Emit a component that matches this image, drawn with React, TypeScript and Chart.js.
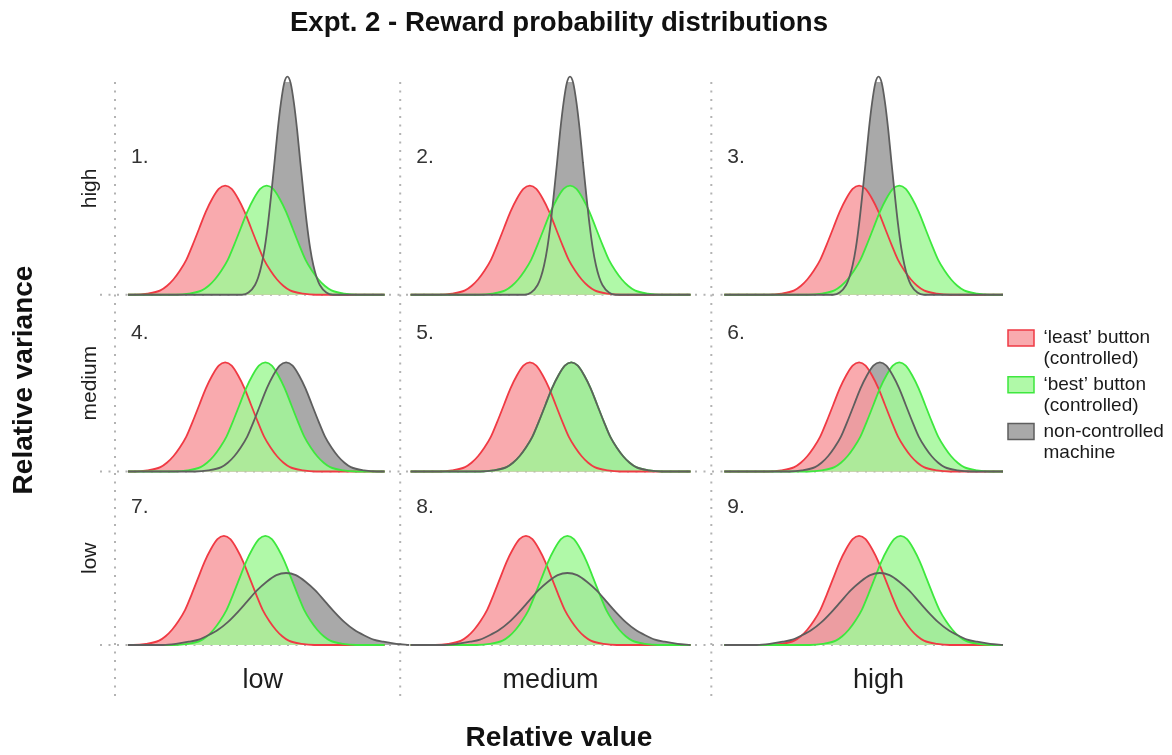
import React, { useEffect, useRef } from 'react';
import { Chart, registerables } from 'chart.js';

Chart.register(...registerables);

const FONT = "'Liberation Sans', Arial, Helvetica, sans-serif";

// ---- text ----
const TITLE = 'Expt. 2 - Reward probability distributions';
const X_AXIS_TITLE = 'Relative value';
const Y_AXIS_TITLE = 'Relative variance';
const COLUMN_LABELS = ['low', 'medium', 'high'];
const ROW_LABELS = ['high', 'medium', 'low'];
const PANEL_LABELS = ['1.', '2.', '3.', '4.', '5.', '6.', '7.', '8.', '9.'];
const LEGEND_LABELS = [
  ['\u2018least\u2019 button', '(controlled)'],
  ['\u2018best\u2019 button', '(controlled)'],
  ['non-controlled', 'machine'],
];

// ---- axis extents (relative value units, relative density units) ----
const COLUMN_X_MAX = [11, 12, 11.25];
const COLUMN_LABEL_AT = [5.7, 5.8, 6.45];
const COLUMN_BASELINE_START = [0.5, 0.4, 0.5];
const COLUMN_BASELINE_END = [10.4, 11.2, 11.25];
const ROW_Y_MAX = [1.95, 1.62, 1.59];

// ---- distribution centres per panel (1..9) ----
const RED_MEANS = [4.25, 5.0, 5.7, 4.25, 5.0, 5.7, 4.2, 4.85, 5.7];
const GREEN_MEANS = [5.85, 6.55, 7.25, 5.8, 6.6, 7.25, 5.8, 6.45, 7.3];
const GRAY_MEANS = [6.65, 6.55, 6.45, 6.6, 6.6, 6.5, 6.6, 6.45, 6.5];
const GRAY_PROFILE_BY_ROW = ['narrow', 'standard', 'wide'];

// ---- curve profiles (offset from peak, height) ----
const STANDARD_OFFSETS = [-3.5, -3, -2.5, -2.25, -2, -1.75, -1.5, -1.25, -1, -0.75, -0.5, -0.25, 0, 0.25, 0.5, 0.75, 1, 1.25, 1.5, 1.75, 2, 2.25, 2.5, 3, 3.5];
const STANDARD_HEIGHTS = [0.0, 0.01, 0.04, 0.08, 0.14, 0.22, 0.32, 0.46, 0.61, 0.76, 0.88, 0.97, 1.0, 0.97, 0.88, 0.76, 0.61, 0.46, 0.32, 0.22, 0.14, 0.08, 0.04, 0.01, 0.0];
const NARROW_OFFSETS = [-1.75, -1.5, -1.25, -1.125, -1, -0.875, -0.75, -0.625, -0.5, -0.375, -0.25, -0.125, 0, 0.125, 0.25, 0.375, 0.5, 0.625, 0.75, 0.875, 1, 1.125, 1.25, 1.5, 1.75];
const NARROW_HEIGHTS = [0.0, 0.02, 0.09, 0.16, 0.27, 0.43, 0.65, 0.92, 1.21, 1.51, 1.76, 1.94, 2.0, 1.94, 1.76, 1.51, 1.21, 0.92, 0.65, 0.43, 0.27, 0.16, 0.09, 0.02, 0.0];
const WIDE_OFFSETS = [-4.75, -4.25, -3.75, -3.375, -3, -2.625, -2.25, -1.875, -1.5, -1.125, -0.75, -0.375, 0, 0.375, 0.75, 1.125, 1.5, 1.875, 2.25, 2.625, 3, 3.375, 3.75, 4.25, 4.75];
const WIDE_HEIGHTS = [0.0, 0.01, 0.03, 0.05, 0.09, 0.14, 0.21, 0.3, 0.4, 0.5, 0.58, 0.64, 0.66, 0.64, 0.58, 0.5, 0.4, 0.3, 0.21, 0.14, 0.09, 0.05, 0.03, 0.01, 0.0];

const PROFILES: Record<string, [number[], number[]]> = {
  standard: [STANDARD_OFFSETS, STANDARD_HEIGHTS],
  narrow: [NARROW_OFFSETS, NARROW_HEIGHTS],
  wide: [WIDE_OFFSETS, WIDE_HEIGHTS],
};

// ---- styles ----
const RED_LINE = '#f03a44';
const RED_FILL = 'rgba(248, 155, 160, 0.85)';
const GREEN_LINE = '#3ee83e';
const GREEN_FILL = 'rgba(162, 248, 153, 0.85)';
const GRAY_LINE = '#5e5e5e';
const GRAY_FILL = 'rgba(169, 169, 169, 1)';
const TEXT_COLOR = '#1e1e1e';
const NONE = 'rgba(0,0,0,0)';

function buildCurve(profile: string, mean: number, start: number, end: number) {
  const [offsets, heights] = PROFILES[profile];
  const pts = offsets.map((o, i) => ({ x: mean + o, y: heights[i] }));
  if (start < pts[0].x) pts.unshift({ x: start, y: 0 });
  if (end > pts[pts.length - 1].x) pts.push({ x: end, y: 0 });
  return pts;
}

function lineSet(label: string, data: any[], col: number, row: number, color: string) {
  return {
    label,
    data,
    xAxisID: 'x' + col,
    yAxisID: 'y' + row,
    borderColor: color,
    backgroundColor: NONE,
    borderWidth: 1.8,
    fill: false,
    pointRadius: 0,
    pointHoverRadius: 0,
    cubicInterpolationMode: 'monotone',
    clip: false,
  };
}

function fillSet(label: string, data: any[], col: number, row: number, color: string) {
  return {
    label,
    data,
    xAxisID: 'x' + col,
    yAxisID: 'y' + row,
    borderColor: NONE,
    backgroundColor: color,
    borderWidth: 0,
    showLine: false,
    fill: 'origin',
    pointRadius: 0,
    pointHoverRadius: 0,
    cubicInterpolationMode: 'monotone',
    clip: false,
  };
}

const panelDecor = {
  id: 'panelDecor',
  beforeDraw(chart: any) {
    const { ctx, chartArea } = chart;
    ctx.save();
    ctx.strokeStyle = '#b3b3b3';
    ctx.lineWidth = 2;
    ctx.setLineDash([2, 6.5]);
    for (let c = 0; c < 3; c++) {
      const sx = chart.scales['x' + c];
      ctx.beginPath();
      ctx.moveTo(sx.left, chartArea.top);
      ctx.lineTo(sx.left, chartArea.bottom + 55);
      ctx.stroke();
    }
    for (let r = 0; r < 3; r++) {
      const sy = chart.scales['y' + r];
      const y = sy.getPixelForValue(0);
      ctx.beginPath();
      ctx.moveTo(chartArea.left - 15, y);
      ctx.lineTo(chartArea.right, y);
      ctx.stroke();
    }
    ctx.restore();

    ctx.save();
    ctx.fillStyle = '#333';
    ctx.font = `21px ${FONT}`;
    ctx.textBaseline = 'middle';
    ctx.textAlign = 'left';
    PANEL_LABELS.forEach((lbl, p) => {
      const sx = chart.scales['x' + (p % 3)];
      const sy = chart.scales['y' + Math.floor(p / 3)];
      ctx.fillText(lbl, sx.left + 16, sy.getPixelForValue(0) - 138);
    });
    ctx.restore();
  },
};

export default function App() {
  const canvasRef = useRef<HTMLCanvasElement | null>(null);

  useEffect(() => {
    document.body.style.margin = '0';
    const canvas = canvasRef.current;
    if (!canvas) return;

    const datasets: any[] = [];
    for (let p = 0; p < 9; p++) {
      const col = p % 3;
      const row = Math.floor(p / 3);
      const s = COLUMN_BASELINE_START[col];
      const e = COLUMN_BASELINE_END[col];
      const green = buildCurve('standard', GREEN_MEANS[p], s, e);
      const red = buildCurve('standard', RED_MEANS[p], s, e);
      const gray = buildCurve(GRAY_PROFILE_BY_ROW[row], GRAY_MEANS[p], s, e);
      // outlines (drawn above every fill); earlier = on top
      datasets.push(lineSet('non-controlled ' + (p + 1), gray, col, row, GRAY_LINE));
      datasets.push(lineSet('best ' + (p + 1), green, col, row, GREEN_LINE));
      datasets.push(lineSet('least ' + (p + 1), red, col, row, RED_LINE));
      // fills; earlier = on top
      datasets.push(fillSet('best area ' + (p + 1), green, col, row, GREEN_FILL));
      datasets.push(fillSet('least area ' + (p + 1), red, col, row, RED_FILL));
      datasets.push(fillSet('non-controlled area ' + (p + 1), gray, col, row, GRAY_FILL));
    }

    const hidden = {
      grid: { display: false, drawTicks: false },
      border: { display: false },
      ticks: { display: false },
    };

    const scales: any = {};
    COLUMN_LABELS.forEach((lbl, c) => {
      scales['x' + c] = {
        type: 'linear',
        position: 'bottom',
        stack: 'columns',
        stackWeight: COLUMN_X_MAX[c],
        min: 0,
        max: COLUMN_X_MAX[c],
        grid: { display: false, drawTicks: false },
        border: { display: false },
        afterBuildTicks: (scale: any) => {
          scale.ticks = [{ value: COLUMN_LABEL_AT[c] }];
        },
        ticks: {
          display: true,
          autoSkip: false,
          maxRotation: 0,
          minRotation: 0,
          padding: 19.4,
          color: TEXT_COLOR,
          font: { family: FONT, size: 27, lineHeight: 1.2 },
          callback: () => lbl,
        },
      };
    });
    scales.xv = {
      type: 'linear',
      position: 'bottom',
      min: 0,
      max: 1,
      ...hidden,
      title: {
        display: true,
        text: X_AXIS_TITLE,
        color: '#111',
        font: { family: FONT, size: 28, weight: 'bold', lineHeight: 1 },
        padding: { top: 7.8, bottom: 3 },
      },
    };
    // rows defined bottom-up so that the stack is laid out top-down
    for (let r = 2; r >= 0; r--) {
      scales['y' + r] = {
        type: 'linear',
        position: 'left',
        stack: 'rows',
        stackWeight: ROW_Y_MAX[r],
        min: 0,
        max: ROW_Y_MAX[r],
        ...hidden,
        title: {
          display: true,
          text: ROW_LABELS[r],
          color: TEXT_COLOR,
          font: { family: FONT, size: 21, lineHeight: 1.2 },
          padding: { top: 40, bottom: 11.8 },
        },
      };
    }
    scales.yv = {
      type: 'linear',
      position: 'left',
      stack: 'outer',
      stackWeight: 530,
      min: 0,
      max: 1,
      ...hidden,
      title: {
        display: true,
        text: Y_AXIS_TITLE,
        color: '#111',
        font: { family: FONT, size: 28, weight: 'bold', lineHeight: 1 },
        padding: { top: 10, bottom: 0 },
      },
    };
    scales.yvTop = {
      type: 'linear',
      position: 'left',
      stack: 'outer',
      stackWeight: 33,
      min: 0,
      max: 1,
      ...hidden,
      title: { display: false },
    };

    const legendFills = [RED_FILL, GREEN_FILL, GRAY_FILL];
    const legendLines = [RED_LINE, GREEN_LINE, GRAY_LINE];

    const chart = new Chart(canvas, {
      type: 'line',
      data: { datasets },
      plugins: [panelDecor],
      options: {
        responsive: false,
        animation: false,
        devicePixelRatio: 1,
        layout: { padding: 0 },
        scales,
        plugins: {
          tooltip: { enabled: false },
          filler: { drawTime: 'beforeDatasetsDraw' },
          title: {
            display: true,
            text: TITLE,
            fullSize: false,
            color: '#111',
            font: { family: FONT, size: 27.6, weight: 'bold', lineHeight: 1.2 },
            padding: { top: 6.5, bottom: 42.4 },
          },
          legend: {
            display: true,
            position: 'right',
            align: 'center',
            maxWidth: 169,
            title: { display: true, text: ' ', font: { size: 10, lineHeight: 1 }, padding: 13.7 },
            labels: {
              boxWidth: 26,
              boxHeight: 16,
              padding: 5,
              color: '#1a1a1a',
              font: { family: FONT, size: 19, lineHeight: 1.1 },
              generateLabels: () =>
                LEGEND_LABELS.map((text, i) => ({
                  text: text as any,
                  fillStyle: legendFills[i],
                  strokeStyle: legendLines[i],
                  fontColor: '#1a1a1a',
                  lineWidth: 1.5,
                  hidden: false,
                  datasetIndex: i,
                })),
            },
          },
        },
      } as any,
    });

    return () => chart.destroy();
  }, []);

  return (
    <div style={{ width: 1172, height: 755, background: '#fff' }}>
      <canvas ref={canvasRef} width={1172} height={755} style={{ display: 'block' }} />
    </div>
  );
}
